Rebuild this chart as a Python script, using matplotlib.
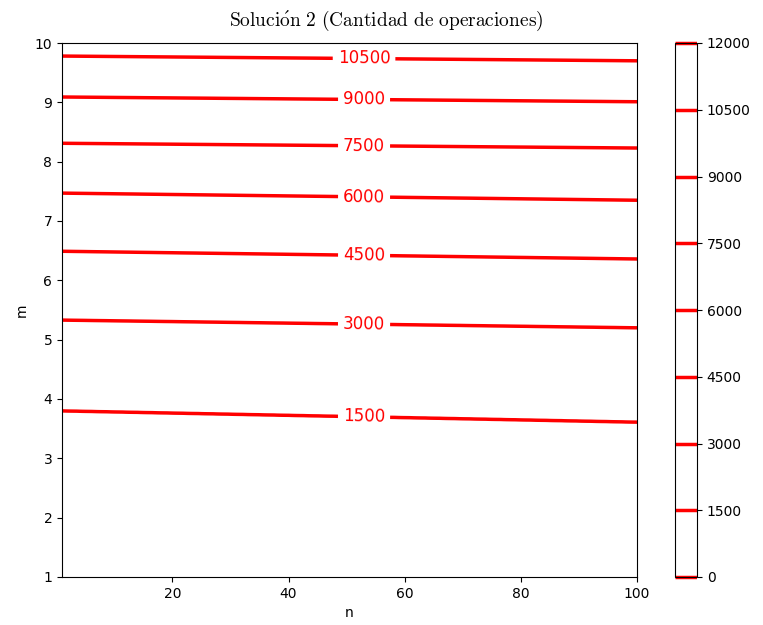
import numpy as np
import matplotlib
matplotlib.use("Agg")
import matplotlib.pyplot as plt

plt.rcParams['mathtext.fontset'] = 'cm'

# contour levels (operations count)
levels = [0, 1500, 3000, 4500, 6000, 7500, 9000, 10500, 12000]
# m where each level is crossed at n=1 and at n=100
m_at_n1 = [0.0, 3.80, 5.33, 6.49, 7.47, 8.31, 9.09, 9.78, 10.42]
m_at_n100 = [0.0, 3.61, 5.20, 6.36, 7.35, 8.23, 9.01, 9.70, 10.35]
label_n = 53

# grid for contour: each level runs straight from n=1 to n=100
n = np.linspace(1, 100, 199)
m = np.linspace(1, 10, 1801)
a = np.array(m_at_n1)
b = np.array(m_at_n100)
Z = np.empty((len(m), len(n)))
for j, nj in enumerate(n):
    t = (nj - 1) / 99
    Z[:, j] = np.interp(m, a + t * (b - a), levels)
N, M = np.meshgrid(n, m)

fig = plt.figure(figsize=(7.63, 6.25), dpi=100)
ax = fig.add_axes([0.0813, 0.0768, 0.7536, 0.8544])
cax = fig.add_axes([0.8847, 0.0768, 0.0288, 0.8544])

cs = ax.contour(N, M, Z, levels=levels, colors='r', linewidths=2.5)
tl = (label_n - 1) / 99
pos = [(label_n, a[i] + tl * (b[i] - a[i])) for i in range(1, len(levels) - 1)]
ax.clabel(cs, inline=True, fontsize=12, fmt='%d', manual=pos)

ax.set_xlim(1, 100)
ax.set_ylim(1, 10)
ax.set_xticks([20, 40, 60, 80, 100])
ax.set_xlabel('n')
ax.set_ylabel('m')
fig.text(0.506, 0.966, r'$\mathrm{Soluci\acute{o}n\ 2\ (Cantidad\ de\ operaciones)}$',
         fontsize=14, ha='center', va='center')

cb = fig.colorbar(cs, cax=cax)
cb.set_ticks(levels)

fig.savefig('out.png', dpi=100)
